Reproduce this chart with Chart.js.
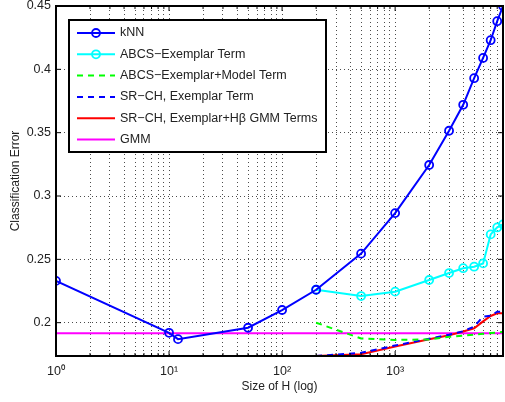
<!DOCTYPE html>
<html>
<head>
<meta charset="utf-8">
<script src="https://cdn.jsdelivr.net/npm/chart.js@4/dist/chart.umd.min.js"></script>
<style>
  html, body { margin: 0; padding: 0; background: #fff; }
  #wrap { width: 505px; height: 402px; }
</style>
</head>
<body>
<div id="wrap"><canvas id="errChart" width="505" height="402"></canvas></div>
<script>
// --- data ---
const knnH = [1, 10, 12, 50, 100, 200, 500, 1000, 2000, 3000, 4000, 5000, 6000, 7000, 8000, 9000];
const knnErr = [0.233, 0.192, 0.187, 0.196, 0.21, 0.226, 0.2545, 0.2865, 0.3245, 0.3515, 0.372, 0.393, 0.409, 0.423, 0.438, 0.45];

const hSizes = [200, 500, 1000, 2000, 3000, 4000, 5000, 6000, 7000, 8000, 9000];
const abcsExemplar = [0.226, 0.221, 0.2245, 0.2337, 0.2392, 0.243, 0.2442, 0.2468, 0.2697, 0.2752, 0.2776];
const abcsModel = [0.2, 0.1875, 0.1864, 0.1868, 0.1888, 0.1898, 0.1905, 0.1912, 0.1918, 0.1922, 0.1928];
const srchExemplar = [0.1737, 0.1762, 0.182, 0.1873, 0.1905, 0.1932, 0.197, 0.2048, 0.2055, 0.2087, 0.2087];
const srchGmm = [0.1737, 0.1751, 0.1812, 0.187, 0.19, 0.193, 0.1956, 0.201, 0.2053, 0.2074, 0.2074];

const gmmH = [1, 9000];
const gmmErr = [0.1916, 0.1916];

const seriesNames = ['kNN', 'ABCS\u2212Exemplar Term', 'ABCS\u2212Exemplar+Model Term',
  'SR\u2212CH, Exemplar Term', 'SR\u2212CH, Exemplar+H\u03b2 GMM Terms', 'GMM'];

const yTicks = [0.2, 0.25, 0.3, 0.35, 0.4, 0.45];
const xMajor = [1, 10, 100, 1000];
const xMajorLabels = ['10\u2070', '10\u00b9', '10\u00b2', '10\u00b3'];

// minor log grid positions 1..9 x each decade, up to the axis max
const xGrid = [];
[1, 10, 100, 1000].forEach(d => {
  for (let k = 1; k <= 9; k++) if (d * k <= 9000) xGrid.push(d * k);
});

const pts = (xs, ys) => xs.map((x, i) => ({ x: x, y: ys[i] }));
const FONT = '"Liberation Sans", Arial, Helvetica, sans-serif';
const TXT = '#222';

// no extra label padding, layout.padding decides the plot box
const noPad = s => { s.paddingLeft = 0; s.paddingRight = 0; s.paddingTop = 0; s.paddingBottom = 0; };

// frame with inward ticks + matlab-like legend box
const frameAndLegend = {
  id: 'frameAndLegend',
  afterDraw(chart) {
    const { ctx, chartArea: a, scales } = chart;
    ctx.save();
    ctx.strokeStyle = '#000';
    ctx.lineWidth = 1;
    ctx.beginPath();
    xGrid.forEach(v => {
      const px = scales.x.getPixelForValue(v);
      const len = xMajor.includes(v) ? 5 : 3;
      ctx.moveTo(px, a.bottom); ctx.lineTo(px, a.bottom - len);
      ctx.moveTo(px, a.top); ctx.lineTo(px, a.top + len);
    });
    yTicks.forEach(v => {
      const py = scales.y.getPixelForValue(v);
      ctx.moveTo(a.left, py); ctx.lineTo(a.left + 5, py);
      ctx.moveTo(a.right, py); ctx.lineTo(a.right - 5, py);
    });
    ctx.stroke();
    ctx.lineWidth = 2;
    ctx.strokeRect(a.left, a.top, a.right - a.left, a.bottom - a.top);

    // legend
    const bx = 69, by = 20, bw = 257, bh = 132;
    ctx.fillStyle = '#fff';
    ctx.fillRect(bx, by, bw, bh);
    ctx.lineWidth = 2;
    ctx.strokeStyle = '#000';
    ctx.strokeRect(bx, by, bw, bh);
    ctx.font = '12.5px ' + FONT;
    ctx.textBaseline = 'middle';
    ctx.textAlign = 'left';
    chart.data.datasets.forEach((ds, i) => {
      const y = 33 + i * 21.3;
      ctx.strokeStyle = ds.borderColor;
      ctx.lineWidth = ds.borderWidth;
      ctx.setLineDash(ds.borderDash || []);
      ctx.beginPath();
      ctx.moveTo(77, y); ctx.lineTo(115, y);
      ctx.stroke();
      ctx.setLineDash([]);
      if (ds.pointRadius > 0) {
        ctx.lineWidth = ds.pointBorderWidth;
        ctx.beginPath();
        ctx.arc(96, y, ds.pointRadius, 0, Math.PI * 2);
        ctx.stroke();
      }
      ctx.fillStyle = TXT;
      ctx.fillText(ds.label, 120, y);
    });
    ctx.restore();
  }
};

const lineSet = (label, data, color, extra) => Object.assign({
  label: label,
  data: data,
  borderColor: color,
  backgroundColor: 'transparent',
  borderWidth: 2,
  pointRadius: 0,
  pointBorderWidth: 1.8,
  pointBorderColor: color,
  pointBackgroundColor: 'transparent',
  tension: 0
}, extra || {});

new Chart(document.getElementById('errChart').getContext('2d'), {
  type: 'line',
  data: {
    datasets: [
      lineSet(seriesNames[0], pts(knnH, knnErr), '#0000ff', { pointRadius: 4 }),
      lineSet(seriesNames[1], pts(hSizes, abcsExemplar), '#00ffff', { pointRadius: 4 }),
      lineSet(seriesNames[2], pts(hSizes, abcsModel), '#00ff00', { borderDash: [6, 5] }),
      lineSet(seriesNames[3], pts(hSizes, srchExemplar), '#0000ff', { borderDash: [6, 5] }),
      lineSet(seriesNames[4], pts(hSizes, srchGmm), '#ff0000'),
      lineSet(seriesNames[5], pts(gmmH, gmmErr), '#ff00ff')
    ]
  },
  options: {
    responsive: false,
    animation: false,
    devicePixelRatio: 1,
    layout: { autoPadding: false, padding: { left: 0, right: 2, top: 6, bottom: 0 } },
    plugins: { legend: { display: false }, tooltip: { enabled: false } },
    scales: {
      x: {
        type: 'logarithmic',
        min: 1,
        max: 9000,
        afterBuildTicks: s => { s.ticks = xGrid.map(v => ({ value: v })); },
        afterFit: s => { s.height = 46; noPad(s); },
        ticks: {
          autoSkip: false,
          maxRotation: 0,
          padding: 8,
          color: TXT,
          font: { family: FONT, size: 12.5 },
          callback: v => {
            const i = xMajor.indexOf(v);
            return i >= 0 ? xMajorLabels[i] : '';
          }
        },
        grid: { color: 'rgba(0,0,0,0.7)', lineWidth: 1, drawTicks: false },
        border: { display: false, dash: [1, 3] },
        title: {
          display: true, text: 'Size of H (log)', color: TXT,
          font: { family: FONT, size: 12 }, padding: { top: 0, bottom: 8 }
        }
      },
      y: {
        min: 0.1737,
        max: 0.45,
        afterBuildTicks: s => { s.ticks = yTicks.map(v => ({ value: v })); },
        afterFit: s => { s.width = 56; noPad(s); },
        ticks: {
          padding: 5,
          color: TXT,
          font: { family: FONT, size: 12.5 },
          callback: v => String(v)
        },
        grid: { color: 'rgba(0,0,0,0.7)', lineWidth: 1, drawTicks: false },
        border: { display: false, dash: [1, 3] },
        title: {
          display: true, text: 'Classification Error', color: TXT,
          font: { family: FONT, size: 12 }, padding: { top: 8, bottom: 0 }
        }
      }
    }
  },
  plugins: [frameAndLegend]
});
</script>
</body>
</html>
